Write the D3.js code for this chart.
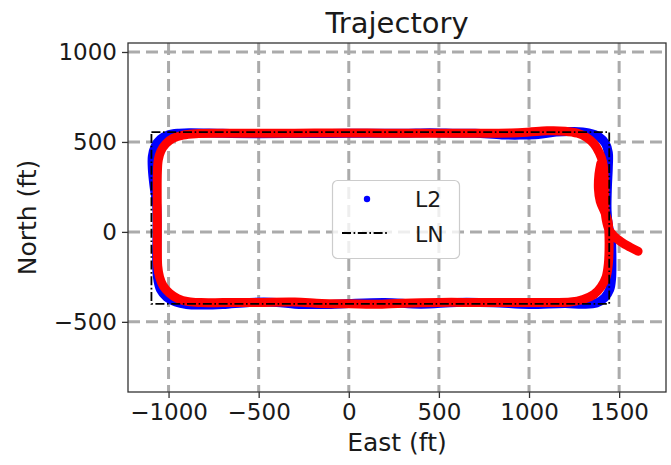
<!DOCTYPE html>
<html>
<head>
<meta charset="utf-8">
<script src="https://cdn.jsdelivr.net/npm/d3@7"></script>
<style>
  html, body { margin: 0; padding: 0; background: #fff; }
  svg text { font-family: "DejaVu Sans", sans-serif; fill: #1a1a1a; }
</style>
</head>
<body>
<svg id="chart" width="671" height="465"></svg>
<script>
// Axis ticks (ft)
const xTicks = [-1000, -500, 0, 500, 1000, 1500];
const yTicks = [-500, 0, 500, 1000];

// Recorded track (red), east / north in ft
const redEast = [1605, 1560, 1510, 1470, 1445, 1428, 1420, 1420, 1416, 1408, 1390, 1360, 1320, 1270, 1200, 1100, 1000, 900, 700, 500, 300, 100, -100, -300, -500, -700, -850, -920, -975, -1015, -1042, -1057, -1062, -1063, -1062, -1062, -1060, -1050, -1030, -995, -950, -890, -820, -700, -500, -300, -150, 0, 150, 300, 500, 700, 900, 1100, 1230, 1300, 1360, 1400, 1428, 1440, 1444, 1443, 1438, 1420, 1395, 1385, 1388, 1398];
const redNorth = [-108, -85, -55, -22, 10, 70, 150, 250, 330, 390, 440, 490, 525, 548, 560, 562, 555, 550, 548, 548, 548, 550, 550, 549, 548, 548, 546, 538, 520, 490, 450, 400, 330, 200, 50, -100, -190, -250, -300, -340, -370, -388, -393, -393, -392, -390, -398, -400, -402, -396, -392, -392, -392, -392, -390, -376, -348, -305, -250, -180, -100, 0, 60, 110, 170, 240, 320, 380];

// L2 solution (blue), east / north in ft
const l2East = [1458, 1460, 1458, 1448, 1420, 1375, 1300, 1200, 1000, 800, 600, 400, 200, 0, -100, -200, -300, -400, -550, -700, -820, -900, -960, -1010, -1045, -1062, -1066, -1064, -1066, -1080, -1090, -1090, -1075, -1045, -1000, -940, -880, -700, -500, -200, 0, 300, 450, 600, 700, 850, 950, 1050, 1150, 1250, 1330, 1390, 1425, 1440, 1440, 1435, 1433, 1440, 1458];
const l2North = [-40, -150, -260, -320, -365, -395, -402, -398, -404, -394, -392, -402, -392, -398, -403, -403, -402, -392, -392, -404, -407, -404, -390, -363, -320, -250, -150, 0, 150, 250, 350, 420, 475, 515, 540, 549, 551, 548, 546, 547, 548, 548, 551, 548, 548, 539, 538, 541, 555, 558, 550, 528, 490, 440, 360, 250, 120, 40, -40];

// LN nominal path (black dash-dot)
const lnEast = [-1095, 1445, 1445, -1095, -1095];
const lnNorth = [555, 555, -400, -400, 555];

const svg = d3.select("#chart");
const L = 128, R = 666, T = 43, B = 392;

const x = d3.scaleLinear().domain([-1225, 1760]).range([L, R]);
const y = d3.scaleLinear().domain([-890, 1050]).range([B, T]);

svg.append("defs").append("clipPath").attr("id", "plotArea")
  .append("rect").attr("x", L).attr("y", T).attr("width", R - L).attr("height", B - T);

const plot = svg.append("g").attr("clip-path", "url(#plotArea)");

// grid
const gridStyle = g => g.attr("stroke", "#ababab").attr("stroke-width", 3)
  .attr("stroke-dasharray", "12,6").attr("fill", "none");
plot.append("g").call(gridStyle).selectAll("line").data(xTicks).join("line")
  .attr("x1", d => x(d)).attr("x2", d => x(d)).attr("y1", T).attr("y2", B);
plot.append("g").call(gridStyle).selectAll("line").data(yTicks).join("line")
  .attr("x1", L).attr("x2", R).attr("y1", d => y(d)).attr("y2", d => y(d));

const toPts = (E, N) => E.map((e, i) => [e, N[i]]);
const smooth = d3.line().x(d => x(d[0])).y(d => y(d[1])).curve(d3.curveCatmullRom.alpha(0.5));
const straight = d3.line().x(d => x(d[0])).y(d => y(d[1]));

plot.append("path").datum(toPts(l2East, l2North)).attr("d", smooth)
  .attr("fill", "none").attr("stroke", "#0000ff").attr("stroke-width", 9)
  .attr("stroke-linejoin", "round").attr("stroke-linecap", "round");

plot.append("path").datum(toPts(redEast, redNorth)).attr("d", smooth)
  .attr("fill", "none").attr("stroke", "#ff0000").attr("stroke-width", 9)
  .attr("stroke-linejoin", "round").attr("stroke-linecap", "round");

plot.append("path").datum(toPts(lnEast, lnNorth)).attr("d", straight)
  .attr("fill", "none").attr("stroke", "#000").attr("stroke-width", 1.8)
  .attr("stroke-dasharray", "9,2.6,1.6,2.6");

// axes
const fmt = d3.format("d");
const xAxis = d3.axisBottom(x).tickValues(xTicks).tickFormat(fmt).tickSize(6).tickPadding(6);
const yAxis = d3.axisLeft(y).tickValues(yTicks).tickFormat(fmt).tickSize(6).tickPadding(5);

const gx = svg.append("g").attr("transform", `translate(0,${B})`).call(xAxis);
const gy = svg.append("g").attr("transform", `translate(${L},0)`).call(yAxis);
[gx, gy].forEach(g => {
  g.select(".domain").remove();
  g.selectAll(".tick line").attr("stroke", "#333").attr("stroke-width", 1.3);
  g.selectAll(".tick text").attr("font-size", 23).attr("fill", "#1a1a1a")
    .attr("font-family", "DejaVu Sans, sans-serif");
});

svg.append("rect").attr("x", L).attr("y", T).attr("width", R - L).attr("height", B - T)
  .attr("fill", "none").attr("stroke", "#333").attr("stroke-width", 1.3);

// labels
svg.append("text").attr("x", (L + R) / 2).attr("y", 33).attr("text-anchor", "middle")
  .attr("font-size", 29).text("Trajectory");
svg.append("text").attr("x", (L + R) / 2).attr("y", 451).attr("text-anchor", "middle")
  .attr("font-size", 25).text("East (ft)");
svg.append("text").attr("transform", `translate(36,${(T + B) / 2}) rotate(-90)`)
  .attr("text-anchor", "middle").attr("font-size", 25).text("North (ft)");

// legend
const lg = svg.append("g");
lg.append("rect").attr("x", 332.5).attr("y", 180.5).attr("width", 127).attr("height", 78)
  .attr("rx", 5).attr("fill", "#fff").attr("fill-opacity", 0.8)
  .attr("stroke", "#cccccc").attr("stroke-width", 1.2);
lg.append("circle").attr("cx", 367).attr("cy", 199).attr("r", 3.2).attr("fill", "#0000ff");
lg.append("line").attr("x1", 342).attr("x2", 389).attr("y1", 233).attr("y2", 233)
  .attr("stroke", "#000").attr("stroke-width", 1.8).attr("stroke-dasharray", "9,2.6,1.6,2.6");
lg.append("text").attr("x", 415).attr("y", 207).attr("font-size", 22).text("L2");
lg.append("text").attr("x", 415).attr("y", 242).attr("font-size", 22).text("LN");
</script>
</body>
</html>
